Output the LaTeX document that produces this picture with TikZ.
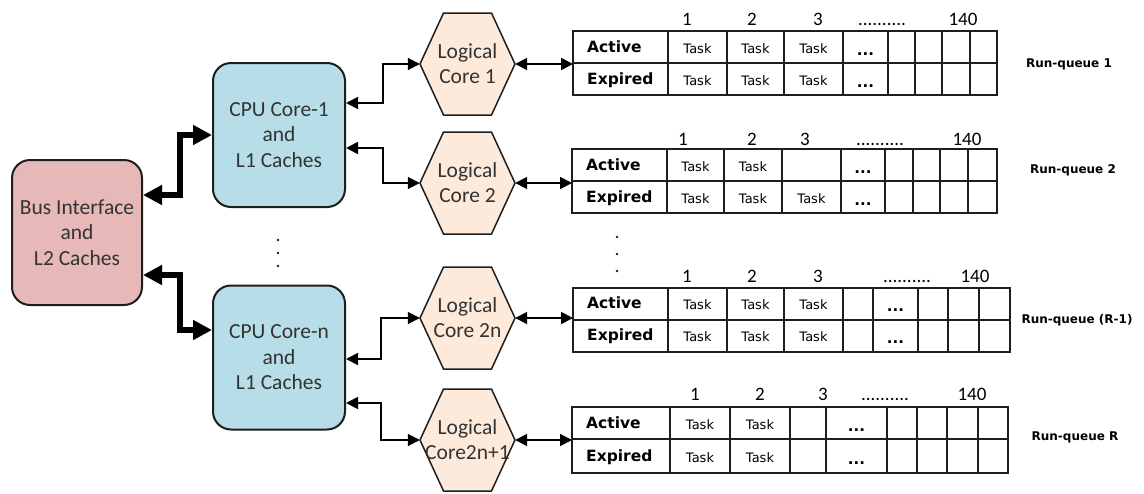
\documentclass[tikz,border=0pt]{standalone}
\usepackage{fontspec}
\setmainfont{Carlito}
\newfontfamily\tabfont{DejaVu Sans}
\usetikzlibrary{arrows.meta}

\definecolor{busfill}{HTML}{E6B8B7}
\definecolor{cpufill}{HTML}{B7DEE8}
\definecolor{hexfill}{HTML}{FDEADA}
\definecolor{edge}{HTML}{1E1E1E}
\definecolor{boxtext}{HTML}{333333}

\newcommand\tendots{..........}

% grid of one run-queue: top, middle, bottom, left, right, inner column lines
\newcommand\qgrid[6]{%
  \draw[cell] (#4,#1) rectangle (#5,#3) (#4,#2) -- (#5,#2);
  \foreach \x in {#6} \draw[cell] (\x,#1) -- (\x,#3);
}
% hexagonal logical core: name, centre x, centre y, text
\newcommand\logcore[4]{%
  \draw[hexline] (#2,#3) ++(-47.5,0) -- ++(23.5,-51) -- ++(48,0) -- ++(23.5,51)
     -- ++(-23.5,51) -- ++(-48,0) -- cycle;
  \node[hexbox] (#1) at (#2,#3) {#4};
}

\tikzset{
  unit/.style={draw=edge, line width=2pt, rounded corners=18pt,
    text=boxtext, align=center, inner sep=0pt,
    font=\fontsize{21.5}{25.5}\selectfont},
  busbox/.style={unit, fill=busfill, minimum width=130pt, minimum height=145pt},
  cpubox/.style={unit, fill=cpufill, minimum width=132pt, minimum height=144pt},
  hexline/.style={draw=edge, line width=1.5pt, fill=hexfill, line join=miter},
  hexbox/.style={minimum width=95pt, minimum height=102pt, inner sep=0pt,
    align=center, text=boxtext, font=\fontsize{21.5}{25}\selectfont},
  cell/.style={draw=edge, line width=1.1pt},
  link/.style={line width=1.8pt, line join=miter,
    {Triangle[length=12pt,width=12pt]}-{Triangle[length=12pt,width=12pt]}},
  bus/.style={line width=6pt, line join=miter,
    {Triangle[length=19pt,width=19pt]}-{Triangle[length=19pt,width=19pt]}},
  rowlab/.style={anchor=base west, inner sep=0pt, font=\tabfont\bfseries\fontsize{15.5}{18}\selectfont},
  task/.style={anchor=base, inner sep=0pt, font=\tabfont\fontsize{13}{15}\selectfont},
  more/.style={anchor=base, inner sep=0pt, font=\tabfont\bfseries\fontsize{15}{18}\selectfont},
  hdr/.style={anchor=base, inner sep=0pt, font=\fontsize{19}{22}\selectfont},
  qname/.style={inner sep=0pt, font=\tabfont\bfseries\fontsize{12}{14}\selectfont},
}

\begin{document}
\begin{tikzpicture}[x=1pt, y=-1pt]
\useasboundingbox (0,0) rectangle (1144,493);

% processor blocks
\node[busbox] (bus) at (77,232.5) {Bus Interface\\and\\L2 Caches};
\node[cpubox] (cpu1) at (279,135) {CPU Core-1\\and\\L1 Caches};
\node[cpubox] (cpun) at (279,357.5) {CPU Core-n\\and\\L1 Caches};
\foreach \y in {240,253,266} \fill[edge] (278,\y) circle (1.3pt);

% logical cores
\logcore{h1}{467.5}{64}{Logical\\Core 1}
\logcore{h2}{467.5}{183}{Logical\\Core 2}
\logcore{h3}{467.5}{318}{Logical\\Core 2n}
\logcore{h4}{467.5}{440}{Logical\\Core2n+1}

% bus links
\draw[bus] ([yshift=37.5pt]bus.east) -- ++(37,0) |- (cpu1.west);
\draw[bus] ([yshift=-42.5pt]bus.east) -- ++(37,0) |- ([yshift=27.5pt]cpun.west);

% core links
\draw[link] ([yshift=32pt]cpu1.east) -- ++(37,0) |- (h1.west);
\draw[link] ([yshift=-13pt]cpu1.east) -- ++(37,0) |- (h2.west);
\draw[link] ([yshift=-1.5pt]cpun.east) -- ++(35,0) |- (h3.west);
\draw[link] ([yshift=-45.5pt]cpun.east) -- ++(35,0) |- (h4.west);

% run-queue 1
\qgrid{31}{63}{95}{573}{997}{668,727,784,843,888,915,942,970}
\coordinate (q1) at (573,63);
\node[rowlab] (q1act) at (587,52) {Active};
\node[rowlab] (q1exp) at (587,84) {Expired};
\foreach \x [count=\i] in {697.5,755.5,813.5} {
  \node[task] (q1a\i) at (\x,53) {Task};
  \node[task] (q1e\i) at (\x,85) {Task};
}
\node[more] (q1am) at (865.5,55) {...};
\node[more] (q1em) at (865.5,87) {...};
\node[hdr] (q1n1) at (687,25) {1};
\node[hdr] (q1n2) at (752,25) {2};
\node[hdr] (q1n3) at (818,25) {3};
\node[hdr] (q1nd) at (882,25) {\tendots};
\node[hdr] (q1n4) at (963,25) {140};
\node[qname] (q1name) at (1069,64) {Run-queue 1};

% run-queue 2
\qgrid{149}{181}{213}{572}{997}{667,724,782,841,885,913,940,968}
\coordinate (q2) at (572,181);
\node[rowlab] (q2act) at (586,170) {Active};
\node[rowlab] (q2exp) at (586,202) {Expired};
\node[task] (q2a1) at (695.5,171) {Task};
\node[task] (q2a2) at (753,171) {Task};
\foreach \x [count=\i] in {695.5,753,811.5} \node[task] (q2e\i) at (\x,203) {Task};
\node[more] (q2am) at (863,173) {...};
\node[more] (q2em) at (863,205) {...};
\node[hdr] (q2n1) at (683,145) {1};
\node[hdr] (q2n2) at (752,145) {2};
\node[hdr] (q2n3) at (805,145) {3};
\node[hdr] (q2nd) at (880,145) {\tendots};
\node[hdr] (q2n4) at (967,145) {140};
\node[qname] (q2name) at (1073,170) {Run-queue 2};

\foreach \y in {237,254,271} \fill[edge] (617,\y) circle (1.3pt);

% run-queue R-1
\qgrid{288}{320}{352}{573}{1010}{668,727,784,843,873,918,948,979}
\coordinate (q3) at (573,320);
\node[rowlab] (q3act) at (587,308.5) {Active};
\node[rowlab] (q3exp) at (587,340.5) {Expired};
\foreach \x [count=\i] in {697.5,755.5,813.5} {
  \node[task] (q3a\i) at (\x,309.5) {Task};
  \node[task] (q3e\i) at (\x,341.5) {Task};
}
\node[more] (q3am) at (895.5,311.5) {...};
\node[more] (q3em) at (895.5,343.5) {...};
\node[hdr] (q3n1) at (687,282) {1};
\node[hdr] (q3n2) at (752,282) {2};
\node[hdr] (q3n3) at (818,282) {3};
\node[hdr] (q3nd) at (907,282) {\tendots};
\node[hdr] (q3n4) at (975,282) {140};
\node[qname] (q3name) at (1077,320) {Run-queue (R-1)};

% run-queue R
\qgrid{407}{439}{473}{572}{1008}{670,730,790,826,887,917,947,978}
\coordinate (q4) at (572,439);
\node[rowlab] (q4act) at (586,428) {Active};
\node[rowlab] (q4exp) at (586,461) {Expired};
\foreach \x [count=\i] in {700,760} {
  \node[task] (q4a\i) at (\x,429) {Task};
  \node[task] (q4e\i) at (\x,462) {Task};
}
\node[more] (q4am) at (856.5,431) {...};
\node[more] (q4em) at (856.5,464) {...};
\node[hdr] (q4n1) at (695,400) {1};
\node[hdr] (q4n2) at (760,400) {2};
\node[hdr] (q4n3) at (823,400) {3};
\node[hdr] (q4nd) at (885,400) {\tendots};
\node[hdr] (q4n4) at (972,400) {140};
\node[qname] (q4name) at (1075,437) {Run-queue R};

% logical core to run-queue links
\draw[link] (h1.east) -- (h1.east -| q1);
\draw[link] (h2.east) -- (h2.east -| q2);
\draw[link] (h3.east) -- (h3.east -| q3);
\draw[link] (h4.east) -- (h4.east -| q4);
\end{tikzpicture}
\end{document}
